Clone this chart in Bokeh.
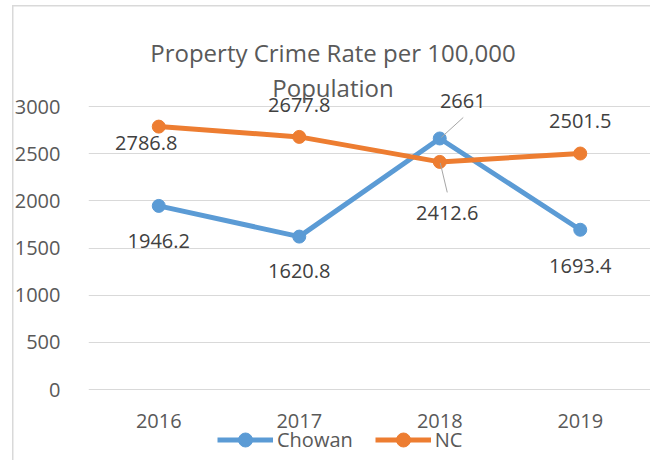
from bokeh.plotting import figure
from bokeh.models import (ColumnDataSource, FactorRange, Label, LabelSet,
                          Legend, LegendItem, Range1d)
from bokeh.transform import dodge
from bokeh.core.properties import value
from bokeh.embed import file_html
from bokeh.resources import INLINE

# ---- data ----
years = ["2016", "2017", "2018", "2019"]
chowan = [1946.2, 1620.8, 2661, 1693.4]
nc = [2786.8, 2677.8, 2412.6, 2501.5]
y_ticks = [0, 500, 1000, 1500, 2000, 2500, 3000]
title_lines = ["Property Crime Rate per 100,000", "Population"]
series_names = ["Chowan", "NC"]

# ---- style ----
BLUE = "#5B9BD5"
ORANGE = "#ED7D31"
FONT = "Open Sans"
AXIS_TXT = "#595959"
LBL_TXT = "#404040"
GRID = "#D9D9D9"

W, H = 650, 460
ML = 88                  # frame left (px)
Y0_PX, YTOP_PX = 389, 106  # pixel rows of value 0 and of the top tick
YMAX = y_ticks[-1]
PX_Y = YMAX / (Y0_PX - YTOP_PX)   # data units per pixel
FW = W - ML
BAND = FW / len(years)

# label offsets in pixels (dx right, dy up)
chowan_dx = [0, 0, 23, 0]
chowan_dy = [-35.5, -34, 37, -36]
nc_dx = [-12.5, 0, 7.5, 0]
nc_dy = [-16.5, 32, -51, 32.5]


def fmt(v):
    return f"{v:g}"


src = ColumnDataSource(dict(
    year=years, chowan=chowan, nc=nc,
    chowan_txt=[fmt(v) for v in chowan], nc_txt=[fmt(v) for v in nc],
    cdx=chowan_dx, cdy=chowan_dy, ndx=nc_dx, ndy=nc_dy,
))

p = figure(width=W, height=H, x_range=FactorRange(factors=years),
           y_range=Range1d(-(H - Y0_PX) * PX_Y, Y0_PX * PX_Y),
           output_backend="svg", toolbar_location=None,
           min_border_left=ML, min_border_right=0, min_border_top=0,
           min_border_bottom=0)
p.outline_line_color = None
p.background_fill_color = None
p.border_fill_color = None
g = "linear-gradient(#D9D9D9,#D9D9D9)"
p.styles = {"background": f"{g} 12px 5px/1.5px 470px no-repeat, "
                          f"{g} 12px 5px/700px 1.5px no-repeat, white"}

for ax in (p.xaxis, p.yaxis):
    ax.axis_line_color = None
    ax.major_tick_line_color = None
    ax.minor_tick_line_color = None
    ax.major_label_text_font = FONT
    ax.major_label_text_font_size = "20px"
    ax.major_label_text_color = AXIS_TXT
p.yaxis.ticker = y_ticks
p.yaxis.major_label_standoff = 22
p.xaxis.fixed_location = 0
p.xaxis.major_label_standoff = 18
p.xgrid.grid_line_color = None
p.ygrid.grid_line_color = GRID
p.ygrid.grid_line_width = 1

# series
l1 = p.line(x="year", y="chowan", source=src, line_color=BLUE, line_width=5)
l2 = p.line(x="year", y="nc", source=src, line_color=ORANGE, line_width=5)
s1 = p.scatter(x="year", y="chowan", source=src, size=13, fill_color=BLUE, line_color=BLUE)
s2 = p.scatter(x="year", y="nc", source=src, size=13, fill_color=ORANGE, line_color=ORANGE)

# leader lines for the 2018 labels
i18 = years.index("2018")
lead_c = ColumnDataSource(dict(year=[years[i18]], y0=[chowan[i18] + 1 * PX_Y],
                               y1=[chowan[i18] + 21 * PX_Y]))
lead_n = ColumnDataSource(dict(year=[years[i18]], y0=[nc[i18] - 1 * PX_Y],
                               y1=[nc[i18] - 30.5 * PX_Y]))
p.segment(x0=dodge("year", 1.5 / BAND, range=p.x_range), y0="y0",
          x1=dodge("year", 23.5 / BAND, range=p.x_range), y1="y1",
          source=lead_c, line_color="#A6A6A6", line_width=1)
p.segment(x0=dodge("year", 0.5 / BAND, range=p.x_range), y0="y0",
          x1=dodge("year", 7.5 / BAND, range=p.x_range), y1="y1",
          source=lead_n, line_color="#A6A6A6", line_width=1)

# data labels
for col, txt, dx, dy in (("chowan", "chowan_txt", "cdx", "cdy"), ("nc", "nc_txt", "ndx", "ndy")):
    p.add_layout(LabelSet(x="year", y=col, text=txt, x_offset=dx, y_offset=dy,
                          source=src, text_align="center", text_baseline="middle",
                          text_font=value(FONT), text_font_size="20px",
                          text_color=LBL_TXT))

# title (two lines), positioned in screen px from frame's bottom-left
for txt, yb in zip(title_lines, (52, 87)):
    p.add_layout(Label(x=332.5 - ML, y=H - yb, x_units="screen", y_units="screen",
                       text=txt, text_align="center", text_baseline="alphabetic",
                       text_font=FONT, text_font_size="24px", text_color=AXIS_TXT))

legend = Legend(items=[LegendItem(label=series_names[0], renderers=[l1, s1]),
                       LegendItem(label=series_names[1], renderers=[l2, s2])],
                location=(217 - ML, H - 439 - 17.5), orientation="horizontal",
                glyph_width=56, glyph_height=35, label_standoff=4, spacing=22,
                padding=0, margin=0, border_line_color=None,
                background_fill_alpha=0, label_text_font=FONT,
                label_text_font_size="20px", label_text_color=AXIS_TXT)
p.add_layout(legend)

open("out.html", "w").write(file_html(p, INLINE))
